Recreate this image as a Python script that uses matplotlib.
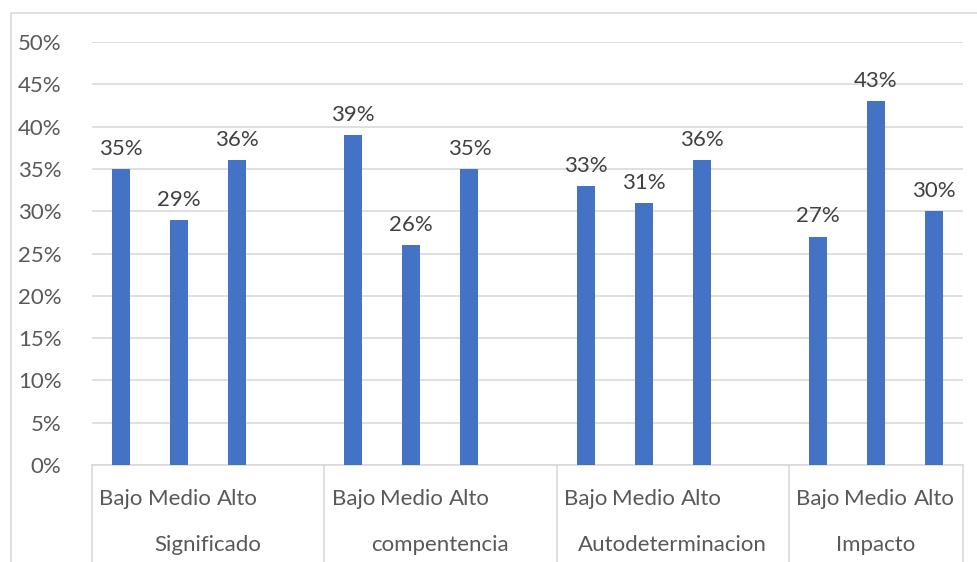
import matplotlib.pyplot as plt
import matplotlib.transforms as mtransforms
from matplotlib.patches import Rectangle
from matplotlib.ticker import PercentFormatter

groups = ["Significado", "compentencia", "Autodeterminacion", "Impacto"]
levels = ["Bajo", "Medio", "Alto"]
values = [
    [35, 29, 36],
    [39, 26, 35],
    [33, 31, 36],
    [27, 43, 30],
]

bar_color = "#4472c4"
text_color = "#595959"
grid_color = "#d9d9d9"

plt.rcParams['font.family'] = ['Lato', 'DejaVu Sans']

fig = plt.figure(figsize=(9.78, 5.62), dpi=100)
ax = fig.add_axes([92 / 978, 1 - 465 / 562, (963 - 92) / 978, (465 - 42) / 562])

# outer chart frame
fig.patches.append(Rectangle((11 / 978, -0.1), 1.2, 1.1 - 13 / 562,
                             transform=fig.transFigure, fill=False,
                             edgecolor=grid_color, linewidth=1.2))

# each group takes 4 slots (last slot empty), the last group only 3
xs, labels = [], []
for gi, vals in enumerate(values):
    for li, v in enumerate(vals):
        x = gi * 4 + li
        xs.append(x)
        labels.append(levels[li])
        ax.bar(x, v / 100, width=0.31, color=bar_color, zorder=3)
        ax.text(x, v / 100 + 0.012, f"{v}%", ha="center", va="bottom",
                fontsize=16, color="#404040")

ax.set_xlim(-0.5, 14.5)
ax.set_ylim(0, 0.5)
ax.set_yticks([i / 100 for i in range(0, 51, 5)])
ax.yaxis.set_major_formatter(PercentFormatter(1.0, decimals=0))
ax.grid(axis="y", color=grid_color, linewidth=1.2, zorder=0)

ax.set_xticks(xs)
ax.set_xticklabels(labels)
ax.tick_params(axis="x", length=0, pad=17, labelsize=16, labelcolor=text_color)
ax.tick_params(axis="y", length=0, pad=22, labelsize=16, labelcolor=text_color)

for side in ["top", "right", "left"]:
    ax.spines[side].set_visible(False)
ax.spines["bottom"].set_color(grid_color)
ax.spines["bottom"].set_linewidth(1.2)

trans = mtransforms.blended_transform_factory(ax.transData, ax.transAxes)
for xb in [-0.5, 3.5, 7.5, 11.5, 14.5]:
    ax.plot([xb, xb], [0, -0.24], transform=trans, color=grid_color,
            linewidth=1.2, clip_on=False)

centers = [1.5, 5.5, 9.5, 13.0]
for c, g in zip(centers, groups):
    ax.text(c, -0.19, g, transform=trans, ha="center", va="center",
            fontsize=16, color=text_color)

fig.savefig("out.png", dpi=100)
